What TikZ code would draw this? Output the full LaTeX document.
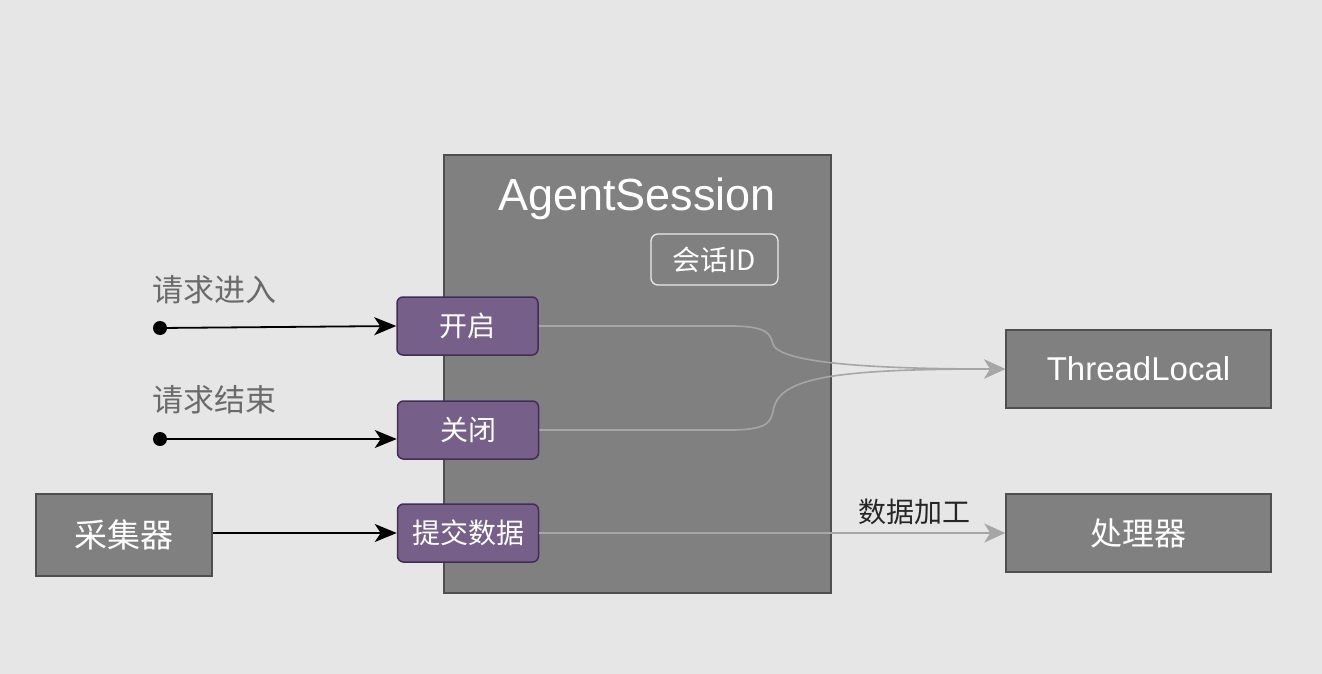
\documentclass[tikz,border=0pt]{standalone}
\usepackage{fontspec}
\setmainfont{Liberation Sans}
\newfontfamily\cjk{Noto Sans CJK SC}
\usetikzlibrary{arrows.meta}
\definecolor{bg}{HTML}{E6E6E6}
\definecolor{boxfill}{HTML}{808080}
\definecolor{boxline}{HTML}{4F4F4F}
\definecolor{pfill}{HTML}{76608A}
\definecolor{pline}{HTML}{432D57}
\definecolor{glink}{HTML}{A6A6A6}
\definecolor{lbl}{HTML}{6A6A6A}
\newcommand{\fs}[1]{\fontsize{#1}{#1}\selectfont}
\tikzset{
  gbox/.style={draw=boxline, fill=boxfill, line width=1.5pt, text=white, inner sep=0pt},
  pbox/.style={draw=pline, fill=pfill, line width=1.5pt, rounded corners=6pt, text=white,
    minimum width=141pt, minimum height=58pt, inner sep=0pt, font=\cjk\fs{28}},
  blink/.style={draw=black, line width=1.8pt, -{Stealth[length=22pt,width=18pt,inset=6pt]}},
  glinkst/.style={draw=glink, line width=1.6pt, -{Stealth[length=21pt,width=19pt,inset=6pt]}},
  dotst/.style={circle, fill=black, inner sep=0pt, minimum size=14pt},
  lblst/.style={text=lbl, font=\cjk\fs{31}, inner sep=0pt},
}
\begin{document}
\begin{tikzpicture}[x=1pt,y=-1pt]
\fill[bg] (0,0) rectangle (1322,674);
\useasboundingbox (0,0) rectangle (1322,674);

% main AgentSession box
\node[gbox, minimum width=387pt, minimum height=438pt] (main) at (637.5,374) {};
\node[text=white, font=\fs{45}, inner sep=0pt] (title) at (637,199) {AgentSession};
\node[draw=white!92!black, line width=1.3pt, rounded corners=7pt, minimum width=127pt, minimum height=51pt,
  text=white, font=\cjk\fs{28}, inner sep=0pt] (sid) at (714.5,259.5) {会话ID};

% purple ports
\node[pbox] (open) at (467.5,326) {开启};
\node[pbox] (close) at (468,430) {关闭};
\node[pbox] (submit) at (468,533) {提交数据};

% outer boxes
\node[gbox, minimum width=176pt, minimum height=82pt, font=\cjk\fs{33}] (collector) at (124,535) {采集器};
\node[gbox, minimum width=265pt, minimum height=78pt, font=\fs{33}] (tl) at (1138.5,369) {ThreadLocal};
\node[gbox, minimum width=265pt, minimum height=78pt, font=\cjk\fs{32}] (proc) at (1138.5,533) {处理器};

% request inputs
\node[dotst] (d1) at (160,328) {};
\node[dotst] (d2) at (160,439) {};
\node[lblst, anchor=west] (l1) at (152,290) {请求进入};
\node[lblst, anchor=west] (l2) at (152,400) {请求结束};

\draw[blink] (d1.center) -- (open.west);
\draw[blink] (d2.center) -- (close.west |- d2);
\draw[blink] (collector.east |- submit) -- (submit.west);

% gray links to ThreadLocal
\draw[glinkst] (open.east) -- (735,326) .. controls (768,327) and (770,334) .. (773,344)
  .. controls (777,358) and (830,369) .. (tl.west);
\draw[glinkst] (close.east) -- (735,430) .. controls (768,429) and (770,422) .. (773,412)
  .. controls (777,378) and (830,369) .. (tl.west);

% processing
\draw[glinkst] (submit.east) -- node[pos=0.805, above=7pt, text=black!85, font=\cjk\fs{28}, inner sep=0pt] (lproc) {数据加工} (proc.west);
\end{tikzpicture}
\end{document}
